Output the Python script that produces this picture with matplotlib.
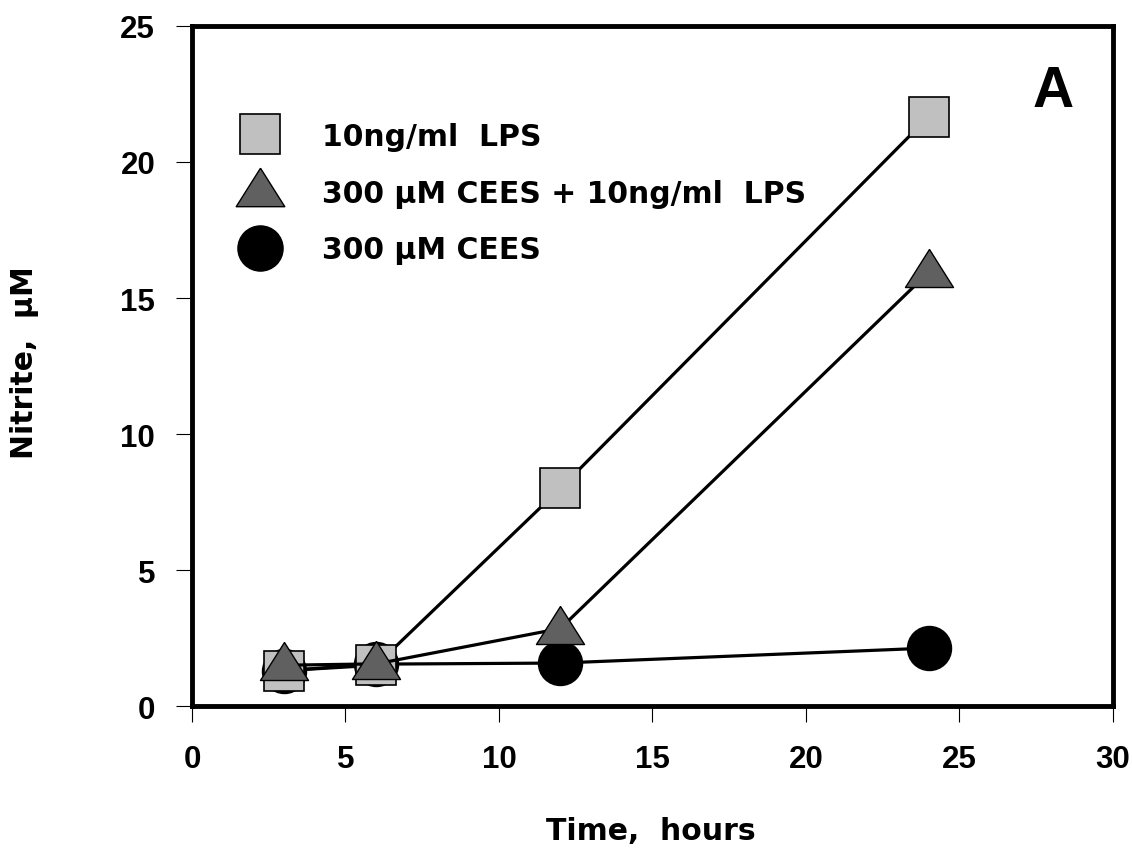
import matplotlib.pyplot as plt
from matplotlib.lines import Line2D

plt.rcParams['font.family'] = ['Liberation Sans', 'DejaVu Sans']
plt.rcParams['font.weight'] = 'bold'

# time points (hours)
hours = [3, 6, 12, 24]

# nitrite values (uM)
lps = [1.3, 1.5, 8.0, 21.67]
cees_lps = [1.5, 1.55, 2.85, 15.95]
cees = [1.3, 1.54, 1.58, 2.13]

labels = ["10ng/ml  LPS", "300 μM CEES + 10ng/ml  LPS", "300 μM CEES"]

# flattened triangle, like the original plotting program draws it
tri = [(0, 23), (-24, -15), (24, -15), (0, 23)]

fig = plt.figure(figsize=(11.32, 8.54), dpi=100)
ax = fig.add_axes([0.1696, 0.1721, 0.8136, 0.7963])

lw = 2.3
ax.plot(hours, cees, color='black', lw=lw, marker='o', ms=31.7,
        mfc='black', mec='black', mew=1)
ax.plot(hours, lps, color='black', lw=lw, marker='s', ms=29.5,
        mfc='#c0c0c0', mec='black', mew=1.2)
ax.plot(hours, cees_lps, color='black', lw=lw, marker=tri, ms=34.6,
        mfc='#606060', mec='black', mew=1)

ax.set_xlim(0, 30)
ax.set_ylim(0, 25)
ax.set_xticks([0, 5, 10, 15, 20, 25, 30])
ax.set_yticks([0, 5, 10, 15, 20, 25])

for sp in ax.spines.values():
    sp.set_linewidth(3.5)
ax.tick_params(direction='out', length=11.5, width=0.8, labelsize=22.5,
               top=False, right=False)
ax.tick_params(axis='x', pad=16)
ax.tick_params(axis='y', pad=15)

lab_font = dict(family='DejaVu Sans', weight='bold', size=21.5)
fig.text(651 / 1132, 1 - 840 / 854, "Time,  hours", ha='center',
         va='baseline', fontdict=lab_font)
fig.text(33 / 1132, 1 - 363 / 854, "Nitrite,  μM", ha='center',
         va='baseline', rotation=90, rotation_mode='anchor', fontdict=lab_font)

fig.text(1053 / 1132, 1 - 107 / 854, "A", ha='center', va='baseline',
         fontsize=41, fontweight='bold')

handles = [
    Line2D([], [], ls='none', marker='s', ms=29.5, mfc='#c0c0c0', mec='black', mew=1.2),
    Line2D([], [], ls='none', marker=tri, ms=35, mfc='#606060', mec='black', mew=1),
    Line2D([], [], ls='none', marker='o', ms=32.5, mfc='black', mec='black'),
]
ax.legend(handles, labels, loc='upper left', bbox_to_anchor=(0.041, 0.859),
          frameon=False, labelspacing=0.93, handlelength=2.0,
          handletextpad=1.1, borderpad=0, borderaxespad=0,
          prop={'family': 'DejaVu Sans', 'weight': 'bold', 'size': 21.5})

fig.savefig("out.png", dpi=100)
